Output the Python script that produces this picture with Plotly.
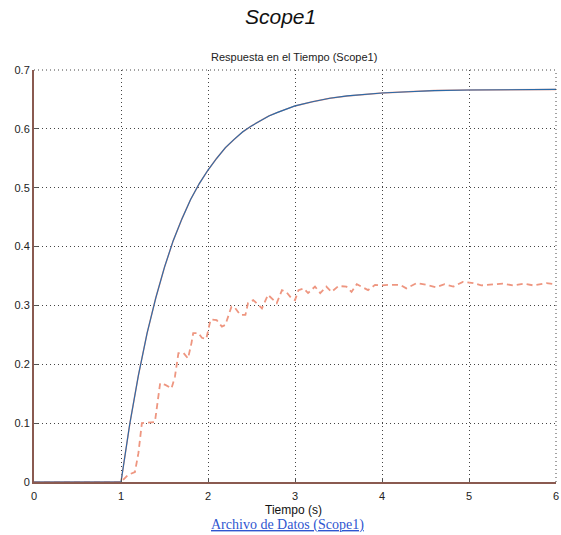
import plotly.graph_objects as go

# Solid response
t_solid = [0.0, 1.0, 1.1, 1.2, 1.3, 1.4, 1.5, 1.6, 1.7, 1.8, 1.9, 2.0, 2.1, 2.2, 2.3,
           2.4, 2.5, 2.6, 2.7, 2.8, 2.9, 3.0, 3.2, 3.4, 3.6, 3.8, 4.0, 4.3, 4.6, 5.0,
           5.5, 6.0]
y_solid = [0.0, 0.0, 0.098, 0.181, 0.253, 0.313, 0.365, 0.410, 0.447, 0.480, 0.507,
           0.530, 0.550, 0.568, 0.582, 0.595, 0.605, 0.614, 0.622, 0.628, 0.634,
           0.639, 0.646, 0.652, 0.656, 0.659, 0.661, 0.663, 0.665, 0.666, 0.666, 0.667]

# Dashed response
t_dash = [0.0, 1.0, 1.08, 1.16, 1.2, 1.24, 1.39, 1.41, 1.45, 1.51, 1.58, 1.62, 1.66,
          1.72, 1.77, 1.81, 1.83, 1.89, 1.93, 1.98, 2.03, 2.10, 2.16, 2.20, 2.27,
          2.31, 2.37, 2.43, 2.46, 2.52, 2.58, 2.62, 2.69, 2.75, 2.79, 2.85, 2.90,
          2.96, 3.00, 3.04, 3.10, 3.15, 3.23, 3.29, 3.36, 3.42, 3.50, 3.59, 3.65,
          3.71, 3.79, 3.84, 3.92, 4.00, 4.09, 4.21, 4.28, 4.40, 4.51, 4.62, 4.72,
          4.82, 4.93, 5.05, 5.14, 5.24, 5.39, 5.51, 5.63, 5.74, 5.89, 6.0]
y_dash = [0.0, 0.0, 0.012, 0.017, 0.049, 0.100, 0.102, 0.122, 0.168, 0.165, 0.159,
          0.179, 0.219, 0.219, 0.210, 0.236, 0.253, 0.253, 0.245, 0.243, 0.276,
          0.275, 0.264, 0.267, 0.298, 0.296, 0.284, 0.284, 0.304, 0.309, 0.300,
          0.295, 0.318, 0.309, 0.304, 0.326, 0.323, 0.312, 0.309, 0.326, 0.329,
          0.321, 0.332, 0.321, 0.332, 0.323, 0.333, 0.332, 0.323, 0.336, 0.329,
          0.326, 0.335, 0.334, 0.335, 0.335, 0.329, 0.338, 0.335, 0.331, 0.336,
          0.332, 0.340, 0.338, 0.334, 0.335, 0.337, 0.334, 0.337, 0.334, 0.338, 0.336]

x_ticks = [0, 1, 2, 3, 4, 5, 6]
y_ticks = [0, 0.1, 0.2, 0.3, 0.4, 0.5, 0.6, 0.7]

fig = go.Figure()
fig.add_trace(go.Scatter(x=t_dash, y=y_dash, mode="lines",
                         line=dict(color="#ee9680", width=1.8, dash="6px,4px"),
                         showlegend=False))
fig.add_trace(go.Scatter(x=t_solid, y=y_solid, mode="lines",
                         line=dict(color="#e89a88", width=1.5),
                         showlegend=False))
fig.add_trace(go.Scatter(x=t_solid, y=y_solid, mode="lines",
                         line=dict(color="#2a6aa8", width=1.1),
                         showlegend=False))

axis_font = dict(family="Liberation Sans, Arial, sans-serif", size=11, color="#222")
common = dict(showgrid=True, gridcolor="#444", griddash="1px,3px", gridwidth=1,
              showline=True, linecolor="#8a5a50", linewidth=2,
              ticks="inside", ticklen=4, tickcolor="#555",
              zeroline=False, tickfont=axis_font, automargin=False)
fig.update_xaxes(range=[0, 6], tickvals=x_ticks, ticktext=[str(v) for v in x_ticks],
                 ticklabelstandoff=3, **common)
fig.update_yaxes(range=[0, 0.7], tickvals=y_ticks, ticktext=[str(v) for v in y_ticks],
                 **common)

fig.add_shape(type="line", xref="paper", yref="paper", x0=0, x1=1, y0=1, y1=1,
              line=dict(color="#444", width=1, dash="1px,3px"))
fig.add_shape(type="line", xref="paper", yref="paper", x0=1, x1=1, y0=0, y1=1,
              line=dict(color="#444", width=1, dash="1px,3px"))

PH = 412.0  # plot height in px (for converting positions)
fig.add_annotation(text="<i>Scope1</i>", xref="paper", yref="paper",
                   x=0.473, y=1 + (70 - 17) / PH, yanchor="middle", showarrow=False,
                   font=dict(family="Liberation Sans, Arial, sans-serif", size=21, color="#111"))
fig.add_annotation(text="Respuesta en el Tiempo (Scope1)", xref="paper", yref="paper",
                   x=0.498, y=1 + (70 - 57) / PH, yanchor="middle", showarrow=False,
                   font=dict(family="Liberation Sans, Arial, sans-serif", size=11, color="#222"))
fig.add_annotation(text="Tiempo (s)", xref="paper", yref="paper",
                   x=0.498, y=-(510 - 482) / PH, yanchor="middle", showarrow=False,
                   font=dict(family="Liberation Sans, Arial, sans-serif", size=12, color="#111"))
fig.add_annotation(text="<span style='text-decoration:underline'>Archivo de Datos (Scope1)</span>",
                   xref="paper", yref="paper", x=0.485, y=-(525 - 482) / PH,
                   yanchor="middle", showarrow=False,
                   font=dict(family="Liberation Serif, Times New Roman, serif", size=14,
                             color="#2f56d0"))

fig.update_layout(width=561, height=535,
                  margin=dict(l=34, r=5, t=70, b=53),
                  paper_bgcolor="white", plot_bgcolor="white")

fig.write_html("out.html", config={"displayModeBar": False},
               post_script="document.body.style.margin='0';document.body.style.overflow='hidden';")
